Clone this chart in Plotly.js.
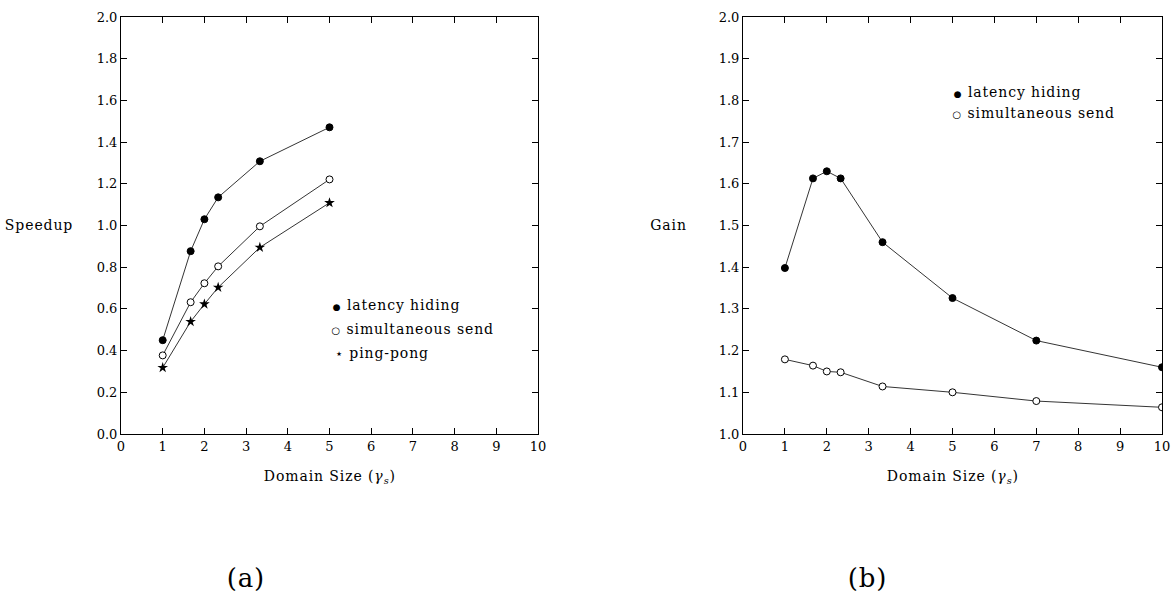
<!DOCTYPE html>
<html><head><meta charset="utf-8">
<script src="https://cdn.plot.ly/plotly-3.0.1.min.js"></script>
<style>body{margin:0;background:#fff}#c{width:1172px;height:597px}
#c .annotation-text{letter-spacing:0.9px}</style>
</head><body><div id="c"></div>
<script>
const xA = [1, 1.67, 2, 2.33, 3.33, 5];
const speedupLatency = [0.45, 0.877, 1.03, 1.135, 1.308, 1.471];
const speedupSimul = [0.377, 0.632, 0.723, 0.804, 0.996, 1.221];
const speedupPing = [0.318, 0.539, 0.623, 0.703, 0.895, 1.109];
const xB = [1, 1.67, 2, 2.33, 3.33, 5, 7, 10];
const gainLatency = [1.398, 1.613, 1.630, 1.613, 1.460, 1.326, 1.224, 1.160];
const gainSimul = [1.179, 1.164, 1.150, 1.148, 1.114, 1.100, 1.079, 1.064];
const yTicksA = [0, 0.2, 0.4, 0.6, 0.8, 1.0, 1.2, 1.4, 1.6, 1.8, 2.0];
const yTicksB = [1.0, 1.1, 1.2, 1.3, 1.4, 1.5, 1.6, 1.7, 1.8, 1.9, 2.0];
const xTicks = [0,1,2,3,4,5,6,7,8,9,10];

const F = "'DejaVu Serif', serif";
const W = 1172, H = 597;
const px = v => v / W, py = v => 1 - v / H;

function tr(x, y, sym, open, xa, ya) {
  const star = sym === 'star';
  return {x: x, y: y, xaxis: xa, yaxis: ya, mode: 'lines+markers', showlegend: false,
    line: {color: '#000', width: 0.8},
    marker: {symbol: sym, size: star ? 8 : 7, color: open ? '#fff' : '#000',
             line: {color: '#000', width: star ? 0 : 1}}};
}
const data = [
  tr(xA, speedupLatency, 'circle', false, 'x', 'y'),
  tr(xA, speedupSimul, 'circle', true, 'x', 'y'),
  tr(xA, speedupPing, 'star', false, 'x', 'y'),
  tr(xB, gainLatency, 'circle', false, 'x2', 'y2'),
  tr(xB, gainSimul, 'circle', true, 'x2', 'y2')
];

const axBase = {showgrid: false, zeroline: false, showline: true, linecolor: '#000', linewidth: 1,
  mirror: 'ticks', ticks: 'inside', ticklen: 6, tickcolor: '#000', tickwidth: 1,
  tickfont: {family: F, size: 13, color: '#000'}};
const dA = [px(121), px(538)], dB = [px(743), px(1162)], dY = [py(434), py(17)];

function ann(text, x, y, size, xanchor) {
  return {text: text, x: x, y: y, xref: 'paper', yref: 'paper', showarrow: false,
    xanchor: xanchor || 'center', yanchor: 'middle', font: {family: F, size: size || 14, color: '#000'}};
}
const dot = '<span style="font-size:9px">●</span> ';
const ring = '<span style="font-size:10px">○</span> ';
const star = '<span style="font-size:13px">⋆</span> ';

const layout = {
  width: W, height: H, margin: {l: 0, r: 0, t: 0, b: 0},
  paper_bgcolor: '#fff', plot_bgcolor: '#fff',
  font: {family: F, color: '#000'},
  xaxis: Object.assign({}, axBase, {domain: dA, range: [0, 10], tickvals: xTicks, anchor: 'y'}),
  yaxis: Object.assign({}, axBase, {domain: dY, range: [0, 2], tickvals: yTicksA, tickformat: '.1f', anchor: 'x'}),
  xaxis2: Object.assign({}, axBase, {domain: dB, range: [0, 10], tickvals: xTicks, anchor: 'y2'}),
  yaxis2: Object.assign({}, axBase, {domain: dY, range: [1, 2], tickvals: yTicksB, tickformat: '.1f', anchor: 'x2'}),
  annotations: [
    ann('Speedup', px(39), py(225)),
    ann('Gain', px(668), py(225)),
    ann('Domain Size (<i>γ</i><sub><i>s</i></sub>)', px(330), py(477)),
    ann('Domain Size (<i>γ</i><sub><i>s</i></sub>)', px(953), py(477)),
    ann('(a)', px(246), py(578), 26),
    ann('(b)', px(867), py(578), 26),
    ann(dot + 'latency hiding', px(338), py(305), 14, 'left'),
    ann(ring + 'simultaneous send', px(338), py(329), 14, 'left'),
    ann(star + 'ping-pong', px(338), py(353), 14, 'left'),
    ann(dot + 'latency hiding', px(959), py(92), 14, 'left'),
    ann(ring + 'simultaneous send', px(959), py(113), 14, 'left')
  ]
};
Plotly.newPlot('c', data, layout, {displayModeBar: false, staticPlot: true});
</script></body></html>
